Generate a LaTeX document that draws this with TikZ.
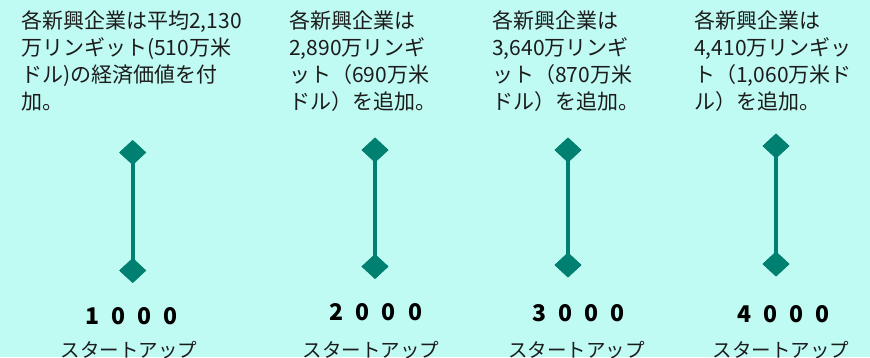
\documentclass[tikz,border=0pt]{standalone}
\usepackage{fontspec}
\newfontfamily\jp{Noto Sans CJK JP}
\usetikzlibrary{shapes.geometric}
\definecolor{bgc}{RGB}{191,251,242}
\definecolor{markc}{RGB}{0,128,112}
\definecolor{textc}{RGB}{28,28,28}
\begin{document}
\begin{tikzpicture}[x=1pt,y=-1pt,
  txt/.style={anchor=base west, inner sep=0pt, font=\jp\fontsize{21}{27}\selectfont, text=textc},
  num/.style={anchor=base, inner sep=0pt, font=\jp\bfseries\fontsize{23}{27}\selectfont, text=black},
  stl/.style={anchor=base, inner sep=0pt, font=\jp\fontsize{19.5}{24}\selectfont, text=textc},
  dia/.style={diamond, fill=markc, draw=none, minimum width=27pt, minimum height=25pt, inner sep=0pt},
  stem/.style={draw=markc, line width=4pt}]
\fill[bgc] (0,0) rectangle (870,357);
\useasboundingbox (0,0) rectangle (870,357);
% column 1
\node[txt] (a1) at (21,28.5) {各新興企業は平均2,130};
\node[txt] (a2) at (21,55.5) {万リンギット(510万米};
\node[txt] (a3) at (21,82.5) {ドル)の経済価値を付};
\node[txt] (a4) at (21,109.5) {加。};
% column 2
\node[txt] (b1) at (289,28.5) {各新興企業は};
\node[txt] (b2) at (289,55.5) {2,890万リンギ};
\node[txt] (b3) at (289,82.5) {ット（690万米};
\node[txt] (b4) at (289,109.5) {ドル）を追加。};
% column 3
\node[txt] (c1) at (492,28.5) {各新興企業は};
\node[txt] (c2) at (492,55.5) {3,640万リンギ};
\node[txt] (c3) at (492,82.5) {ット（870万米};
\node[txt] (c4) at (492,109.5) {ドル）を追加。};
% column 4
\node[txt] (e1) at (694,28.5) {各新興企業は};
\node[txt] (e2) at (694,55.5) {4,410万リンギッ};
\node[txt] (e3) at (694,82.5) {ト（1,060万米ド};
\node[txt] (e4) at (694,109.5) {ル）を追加。};
% markers
\node[dia] (d1t) at (132.7,152.5) {};
\node[dia] (d1b) at (132.7,270.5) {};
\node[dia] (d2t) at (375,150) {};
\node[dia] (d2b) at (375,266.5) {};
\node[dia] (d3t) at (568,150) {};
\node[dia] (d3b) at (568,265) {};
\node[dia] (d4t) at (776,146) {};
\node[dia] (d4b) at (776,264) {};
\draw[stem] (d1t.center) -- (d1b.center);
\draw[stem] (d2t.center) -- (d2b.center);
\draw[stem] (d3t.center) -- (d3b.center);
\draw[stem] (d4t.center) -- (d4b.center);
\node[dia] at (d1t) {};\node[dia] at (d1b) {};
\node[dia] at (d2t) {};\node[dia] at (d2b) {};
\node[dia] at (d3t) {};\node[dia] at (d3b) {};
\node[dia] at (d4t) {};\node[dia] at (d4b) {};
% numbers
\node[num] (n1) at (131.5,324) {1\hspace{12pt}0\hspace{12pt}0\hspace{12pt}0};
\node[num] (n2) at (376,320) {2\hspace{12pt}0\hspace{12pt}0\hspace{12pt}0};
\node[num] (n3) at (578.5,321) {3\hspace{12pt}0\hspace{12pt}0\hspace{12pt}0};
\node[num] (n4) at (783.5,322) {4\hspace{12pt}0\hspace{12pt}0\hspace{12pt}0};
% labels
\node[stl] (s1) at (129,357.5) {スタートアップ};
\node[stl] (s2) at (371,357.5) {スタートアップ};
\node[stl] (s3) at (576.5,357.5) {スタートアップ};
\node[stl] (s4) at (781,357.5) {スタートアップ};
\end{tikzpicture}
\end{document}
